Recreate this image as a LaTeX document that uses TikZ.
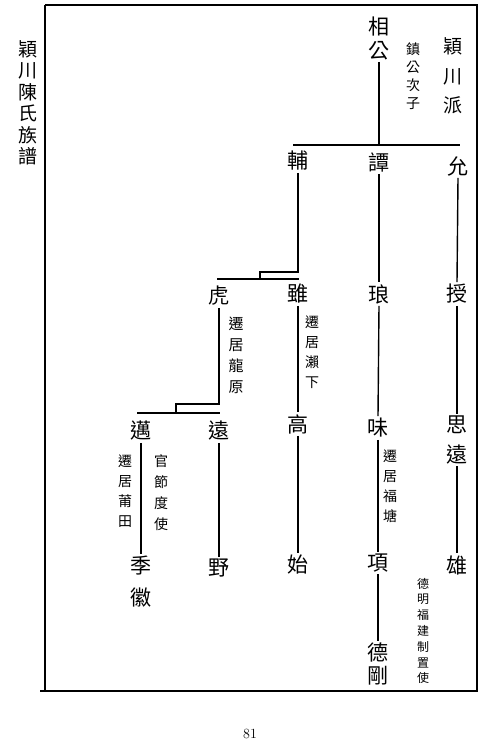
\documentclass[tikz,border=0pt]{standalone}
\usepackage{fontspec}
\newfontfamily\cjk{Noto Sans CJK TC}
\begin{document}
\begin{tikzpicture}[x=1pt,y=-1pt,
  nm/.style={font=\cjk\fontsize{21}{24}\selectfont, align=center, inner sep=2pt},
  nt/.style={font=\cjk\fontsize{14}{20}\selectfont, align=center, inner sep=1pt},
  ln/.style={line width=1.4pt},
  fr/.style={line width=1.3pt}]
\useasboundingbox (0,0) rectangle (500,741);
% frame
\draw[fr] (45,5) -- (477,5) -- (477,691);
\draw[fr] (45,5) -- (45,691);
\draw[fr] (40,691) -- (478,691);
% title and page number
\node[nm, font=\cjk\fontsize{19}{21.5}\selectfont] (title) at (28,103) {穎\\川\\陳\\氏\\族\\譜};
\node[font=\fontsize{14}{16}\selectfont] (page) at (250,734) {81};
% generation 1
\node[nm] (xiang) at (379,38) {相\\公};
\node[nt, font=\cjk\fontsize{14}{18}\selectfont] (zhen) at (413,76) {鎮\\公\\次\\子};
\node[nm, font=\cjk\fontsize{19}{29.5}\selectfont] (ying) at (453,76) {穎\\川\\派};
\coordinate (j1) at (379,145);
\coordinate (b1L) at (293,145);
\coordinate (b1R) at (460,145);
\draw[ln] (xiang.south) -- (j1);
\draw[ln] (b1L) -- (b1R);
% generation 2
\node[nm] (fu) at (298,161) {輔};
\node[nm] (tan) at (379,162) {譚};
\node[nm] (yun) at (458,166) {允};
% generation 3
\coordinate (s2a) at (260,272);
\coordinate (s2b) at (260,279);
\coordinate (b2L) at (217,279);
\coordinate (b2R) at (299,279);
\draw[ln] (fu.south) -- (fu.south |- s2a) -- (s2a) -- (s2b);
\draw[ln] (b2L) -- (b2R);
\node[nm] (hu) at (219,296) {虎};
\node[nm] (sui) at (298,294) {雖};
\node[nm] (lang) at (379,294) {琅};
\node[nm] (shou) at (457,294) {授};
\draw[ln] (tan.south) -- (lang.north);
\draw[ln] (yun.south) -- (shou.north);
\node[nt, font=\cjk\fontsize{15}{21}\selectfont] (huN) at (236,355) {遷\\居\\龍\\原};
\node[nt] (suiN) at (312,352) {遷\\居\\瀨\\下};
% generation 4
\coordinate (s3a) at (176,404);
\coordinate (s3b) at (176,413);
\coordinate (b3L) at (137,413);
\coordinate (b3R) at (220,413);
\draw[ln] (hu.south) -- (hu.south |- s3a) -- (s3a) -- (s3b);
\draw[ln] (b3L) -- (b3R);
\node[nm] (mai) at (141,431) {邁};
\node[nm] (yuan) at (219,431) {遠};
\node[nm] (gao) at (298,424) {高};
\node[nm] (wei) at (378,428) {味};
\node[nm, font=\cjk\fontsize{21}{30}\selectfont] (siyuan) at (457,440) {思\\遠};
\draw[ln] (sui.south) -- (gao.north);
\draw[ln] (lang.south) -- (wei.north);
\draw[ln] (shou.south) -- (siyuan.north);
\node[nt] (maiL) at (125,491) {遷\\居\\莆\\田};
\node[nt, font=\cjk\fontsize{14}{21}\selectfont] (maiR) at (161,493) {官\\節\\度\\使};
\node[nt] (weiN) at (390,486) {遷\\居\\福\\塘};
% generation 5
\node[nm, font=\cjk\fontsize{21}{32}\selectfont] (ji) at (141,582) {季\\徽};
\node[nm] (ye) at (219,568) {野};
\node[nm] (shi) at (298,565) {始};
\node[nm] (xiang2) at (378,563) {項};
\node[nm] (xiong) at (457,565) {雄};
\draw[ln] (mai.south) -- (ji.north);
\draw[ln] (yuan.south) -- (ye.north);
\draw[ln] (gao.south) -- (shi.north);
\draw[ln] (wei.south) -- (xiang2.north);
\draw[ln] (siyuan.south) -- (xiong.north);
\node[nt, font=\cjk\fontsize{12}{15.8}\selectfont] (xiongN) at (423,631) {德\\明\\福\\建\\制\\置\\使};
% generation 6
\node[nm, font=\cjk\fontsize{21}{23}\selectfont] (degang) at (378,664) {德\\剛};
\draw[ln] (xiang2.south) -- (degang.north);
\end{tikzpicture}
\end{document}
